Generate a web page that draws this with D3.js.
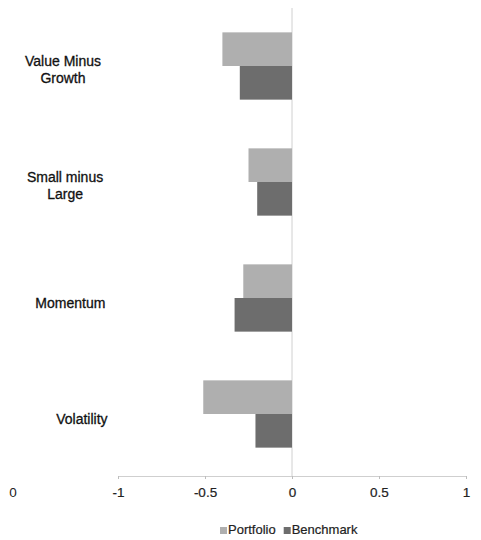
<!DOCTYPE html>
<html>
<head>
<meta charset="utf-8">
<script src="https://cdn.jsdelivr.net/npm/d3@7"></script>
<style>
  html, body { margin: 0; padding: 0; background: #fff; }
  svg { display: block; font-family: "Liberation Sans", Arial, sans-serif; }
</style>
</head>
<body>
<svg id="chart" width="481" height="540"></svg>
<script>
const categories = [["Value Minus", "Growth"], ["Small minus", "Large"], ["Momentum"], ["Volatility"]];
const seriesNames = ["Portfolio", "Benchmark"];
const portfolio = [-0.40, -0.25, -0.28, -0.51];
const benchmark = [-0.30, -0.20, -0.33, -0.21];
const tickValues = [-1, -0.5, 0, 0.5, 1];
const tickLabels = ["-1", "-0.5", "0", "0.5", "1"];
const colors = ["#afafaf", "#6d6d6d"];

const svg = d3.select("#chart");
const x = d3.scaleLinear().domain([-1, 1]).range([118, 466]);
const y = d3.scaleBand().domain(d3.range(categories.length)).range([8, 472]).paddingInner(0.42).paddingOuter(0.21);
const ys = d3.scaleBand().domain([0, 1]).range([0, y.bandwidth()]);

const series = [portfolio, benchmark];

// zero line
svg.append("line")
  .attr("x1", x(0)).attr("x2", x(0))
  .attr("y1", 8).attr("y2", 476)
  .attr("stroke", "#d0d0d0").attr("stroke-width", 1);

// bars
series.forEach((vals, si) => {
  svg.append("g").selectAll("rect").data(vals).join("rect")
    .attr("x", d => x(Math.min(0, d)))
    .attr("width", d => Math.abs(x(d) - x(0)))
    .attr("y", (d, i) => y(i) + ys(si))
    .attr("height", ys.bandwidth())
    .attr("fill", colors[si]);
});

// x axis
const axis = d3.axisBottom(x).tickValues(tickValues).tickFormat((d, i) => tickLabels[i]).tickSize(3).tickPadding(8);
const gx = svg.append("g").attr("transform", "translate(0,476)").call(axis);
gx.select(".domain").attr("stroke", "#cfcfcf");
gx.selectAll(".tick line").attr("stroke", "#bdbdbd");
gx.selectAll(".tick text").attr("font-size", 13.5).attr("fill", "#222")
  .attr("stroke", "#222").attr("stroke-width", 0.2)
  .attr("font-family", "Liberation Sans, Arial, sans-serif");

// stray left label
svg.append("text").attr("x", 13).attr("y", 497).attr("text-anchor", "middle")
  .attr("font-size", 13.5).attr("fill", "#222").text("0");

// category labels
categories.forEach((lines, i) => {
  const cy = y(i) + y.bandwidth() / 2 + 3 + i * 0.8;
  const g = svg.append("g");
  const n = lines.length;
  const texts = lines.map((ln, k) =>
    g.append("text").attr("font-size", 14).attr("fill", "#111")
      .attr("stroke", "#111").attr("stroke-width", 0.3)
      .attr("text-anchor", "middle")
      .attr("y", cy + (k - (n - 1) / 2) * 17 + 5)
      .text(ln));
  const w = d3.max(texts, t => t.node().getComputedTextLength());
  const right = 101 + i * 2.2;
  texts.forEach(t => t.attr("x", right - w / 2));
});

// legend
const legend = svg.append("g").attr("transform", "translate(0,534)");
let lx = 220;
seriesNames.forEach((name, si) => {
  legend.append("rect").attr("x", lx).attr("y", -7).attr("width", 7).attr("height", 7).attr("fill", colors[si]);
  const t = legend.append("text").attr("x", lx + 8).attr("y", 0).attr("font-size", 13).attr("fill", "#222")
    .attr("stroke", "#222").attr("stroke-width", 0.2).text(name);
  lx += 8 + t.node().getComputedTextLength() + 8;
});
</script>
</body>
</html>
